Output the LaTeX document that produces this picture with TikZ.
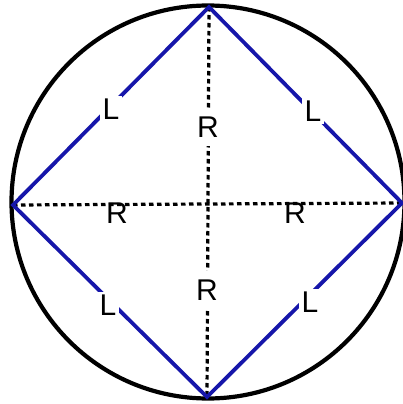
\documentclass[tikz,border=0pt]{standalone}
\usepackage{fontspec}
\setmainfont{Liberation Sans}
\definecolor{sideblue}{RGB}{22,22,170}
\begin{document}
\begin{tikzpicture}[x=1pt,y=-1pt,
  rim/.style={draw=black,line width=4.2pt},
  side/.style={draw=sideblue,line width=3.8pt,line join=miter},
  dots/.style={draw=black,line width=3.2pt,dash pattern=on 4.5pt off 3.5pt},
  lab/.style={font=\fontsize{30}{30}\selectfont,text=black,inner sep=0pt},
  llab/.style={lab,fill=white,inner sep=2.5pt},
  rlab/.style={lab,fill=white,inner xsep=3pt,inner ysep=9pt}]
\useasboundingbox (0,0) rectangle (402,404);
\fill[white] (0,0) rectangle (402,404);
\coordinate (T) at (209,7);
\coordinate (W) at (13,205);
\coordinate (E) at (402,203);
\coordinate (B) at (207,397);
\draw[rim] (208,202) circle[radius=196.5pt];
\draw[dots] (T) -- (B);
\draw[dots] (W) -- (E);
\draw[side] (T) -- (W) -- (B) -- (E) -- cycle;
\node[llab] (l1) at (111,109) {L};
\node[llab] (l2) at (313,111) {L};
\node[llab] (l3) at (108,305) {L};
\node[llab] (l4) at (310,302) {L};
\node[rlab] (r1) at (208,127) {R};
\node[rlab] (r2) at (207,290) {R};
\node[lab] (r3) at (117,213) {R};
\node[lab] (r4) at (295,213) {R};
\end{tikzpicture}
\end{document}
